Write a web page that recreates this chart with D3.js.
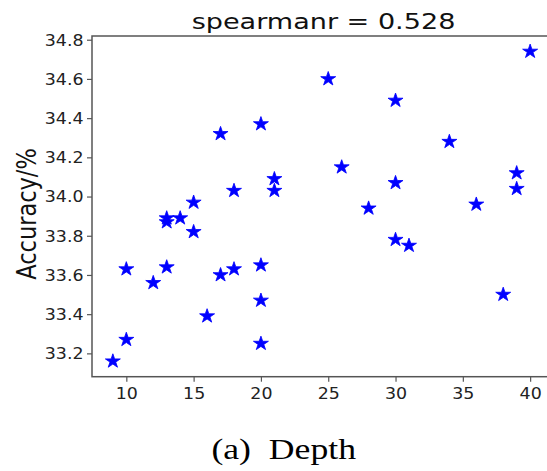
<!DOCTYPE html>
<html><head><meta charset="utf-8">
<script src="https://cdn.jsdelivr.net/npm/d3@7"></script>
<style>html,body{margin:0;padding:0;background:#fff;overflow:hidden}</style>
</head><body>
<svg id="c" width="547" height="471"></svg>
<script>
const depth = [40,25,30,20,17,34,26,39,21,30,18,21,39,15,13,13,14,28,36,15,30,31,10,13,12,17,18,20,20,38,16,10,20,9];
const accuracy = [34.74,34.60,34.49,34.37,34.32,34.28,34.15,34.12,34.09,34.07,34.03,34.03,34.04,33.97,33.89,33.87,33.89,33.94,33.96,33.82,33.78,33.75,33.63,33.64,33.56,33.60,33.63,33.65,33.47,33.50,33.39,33.27,33.25,33.16];
const xTicks = [10,15,20,25,30,35,40];
const yTicks = [33.2,33.4,33.6,33.8,34.0,34.2,34.4,34.6,34.8];
const titleText = "spearmanr = 0.528";
const yLabel = "Accuracy/%";
const caption = "(a)\u00A0\u00A0Depth";

const svg = d3.select("#c");
const L = 92, R = 551, T = 36, B = 376.7;
const x = d3.scaleLinear().domain([7.45, 41.55]).range([L, R]);
const y = d3.scaleLinear().domain([33.081, 34.819]).range([B, T]);
const sx = 1.16;
const axisColor = "#555";
const textColor = "#222";

// frame
svg.append("rect").attr("x", L).attr("y", T).attr("width", R - L).attr("height", B - T)
  .attr("fill", "none").attr("stroke", axisColor).attr("stroke-width", 1.5);

// x axis
const xa = svg.append("g").attr("transform", `translate(0,${B})`)
  .call(d3.axisBottom(x).tickValues(xTicks).tickSize(5).tickSizeOuter(0).tickFormat(d3.format("d")));
xa.select(".domain").remove();
xa.selectAll("line").attr("stroke", axisColor).attr("stroke-width", 1.2);
xa.selectAll("text").attr("font-family", "DejaVu Sans").attr("font-size", 15).attr("fill", textColor)
  .attr("y", 0).attr("dy", 0)
  .attr("transform", `translate(0,22.3) scale(${sx},1)`);

// y axis
const ya = svg.append("g").attr("transform", `translate(${L},0)`)
  .call(d3.axisLeft(y).tickValues(yTicks).tickSize(5).tickSizeOuter(0).tickFormat(d3.format(".1f")));
ya.select(".domain").remove();
ya.selectAll("line").attr("stroke", axisColor).attr("stroke-width", 1.2);
ya.selectAll("text").attr("font-family", "DejaVu Sans").attr("font-size", 15).attr("fill", textColor)
  .attr("x", 0).attr("dy", "0.36em")
  .attr("transform", `translate(-8.5,0) scale(${sx},1)`);

// stars
const star = d3.symbol().type(d3.symbolStar).size(62);
svg.append("g").selectAll("path").data(depth.map((d, i) => [d, accuracy[i]])).join("path")
  .attr("d", star)
  .attr("transform", d => `translate(${x(d[0])},${y(d[1])}) scale(1.06,1)`)
  .attr("fill", "#0000ff")
  .attr("stroke", "#0000ff").attr("stroke-width", 0.8).attr("stroke-linejoin", "miter");

// title
svg.append("text").attr("font-family", "DejaVu Sans").attr("font-size", 22).attr("fill", "#111")
  .attr("text-anchor", "middle")
  .attr("transform", `translate(${(L + R) / 2 + 2},29.3) scale(1.23,1)`)
  .text(titleText);

// y label
svg.append("text").attr("font-family", "DejaVu Sans").attr("font-size", 22.5).attr("fill", "#111")
  .attr("text-anchor", "middle")
  .attr("transform", `translate(35.5,214) scale(1.2,1) rotate(-90)`)
  .text(yLabel);

// caption
svg.append("text").attr("font-family", "Liberation Serif").attr("font-size", 29).attr("fill", "#000")
  .attr("text-anchor", "middle")
  .attr("transform", `translate(283.7,459.3) scale(1.23,1)`)
  .text(caption);
</script>
</body></html>
